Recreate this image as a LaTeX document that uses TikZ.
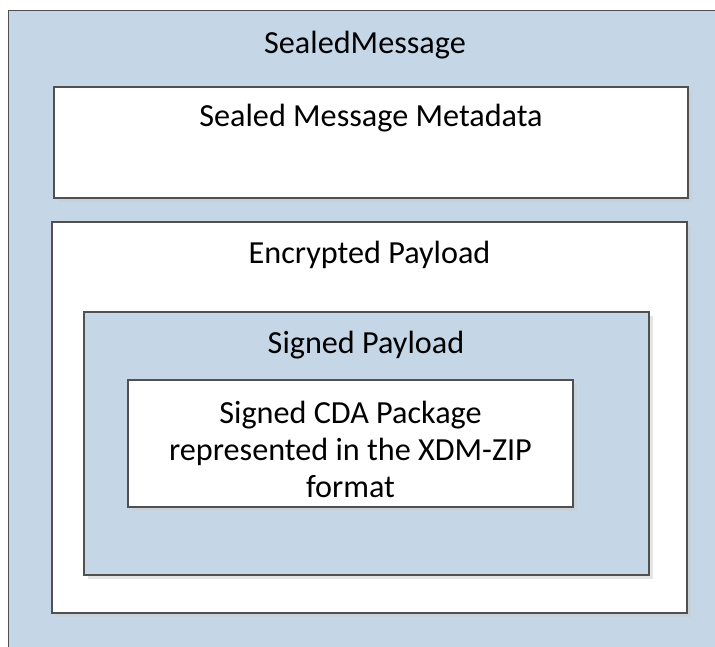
\documentclass[tikz,border=0pt]{standalone}
\usepackage{fontspec}
\setmainfont{Carlito}
\usetikzlibrary{shadows}
\definecolor{boxblue}{HTML}{C5D7E7}
\definecolor{boxline}{HTML}{505050}
\definecolor{shadowgray}{HTML}{CBCBCB}
\tikzset{
  panel/.style={draw=boxline, line width=1.4pt, anchor=north west, inner sep=0pt, outer sep=0pt,
    drop shadow={shadow xshift=4pt, shadow yshift=-4pt, fill=shadowgray, opacity=0.5}},
  bluepanel/.style={panel, fill=boxblue},
  whitepanel/.style={panel, fill=white},
  lbl/.style={anchor=base, inner sep=0pt, font=\fontsize{32.2}{37}\selectfont, text=black},
}
\begin{document}
\begin{tikzpicture}[x=1pt, y=-1pt]
\useasboundingbox (0,0) rectangle (715,646);
\clip (0,0) rectangle (715,646);
\fill[white] (0,0) rectangle (715,646);
\node[draw=boxline, line width=1.4pt, fill=boxblue, anchor=north west, inner sep=0pt,
  minimum width=720pt, minimum height=650pt] (sealed) at (8,10) {};
\node[whitepanel, minimum width=634pt, minimum height=111pt] (meta) at (54,87) {};
\node[whitepanel, minimum width=635pt, minimum height=391pt] (enc) at (52,222) {};
\node[bluepanel, minimum width=565pt, minimum height=263pt] (signed) at (84,312) {};
\node[whitepanel, minimum width=445pt, minimum height=127pt] (cda) at (128,380) {};
\node[lbl] (tsealed) at (365,53) {SealedMessage};
\node[lbl] (tmeta) at (371,126) {Sealed Message Metadata};
\node[lbl] (tenc) at (369.5,263) {Encrypted Payload};
\node[lbl] (tsigned) at (366,353) {Signed Payload};
\node[lbl] (tcda1) at (350.5,423) {Signed CDA Package};
\node[lbl] (tcda2) at (350.5,460) {represented in the XDM-ZIP};
\node[lbl] (tcda3) at (350.5,497) {format};
\end{tikzpicture}
\end{document}
